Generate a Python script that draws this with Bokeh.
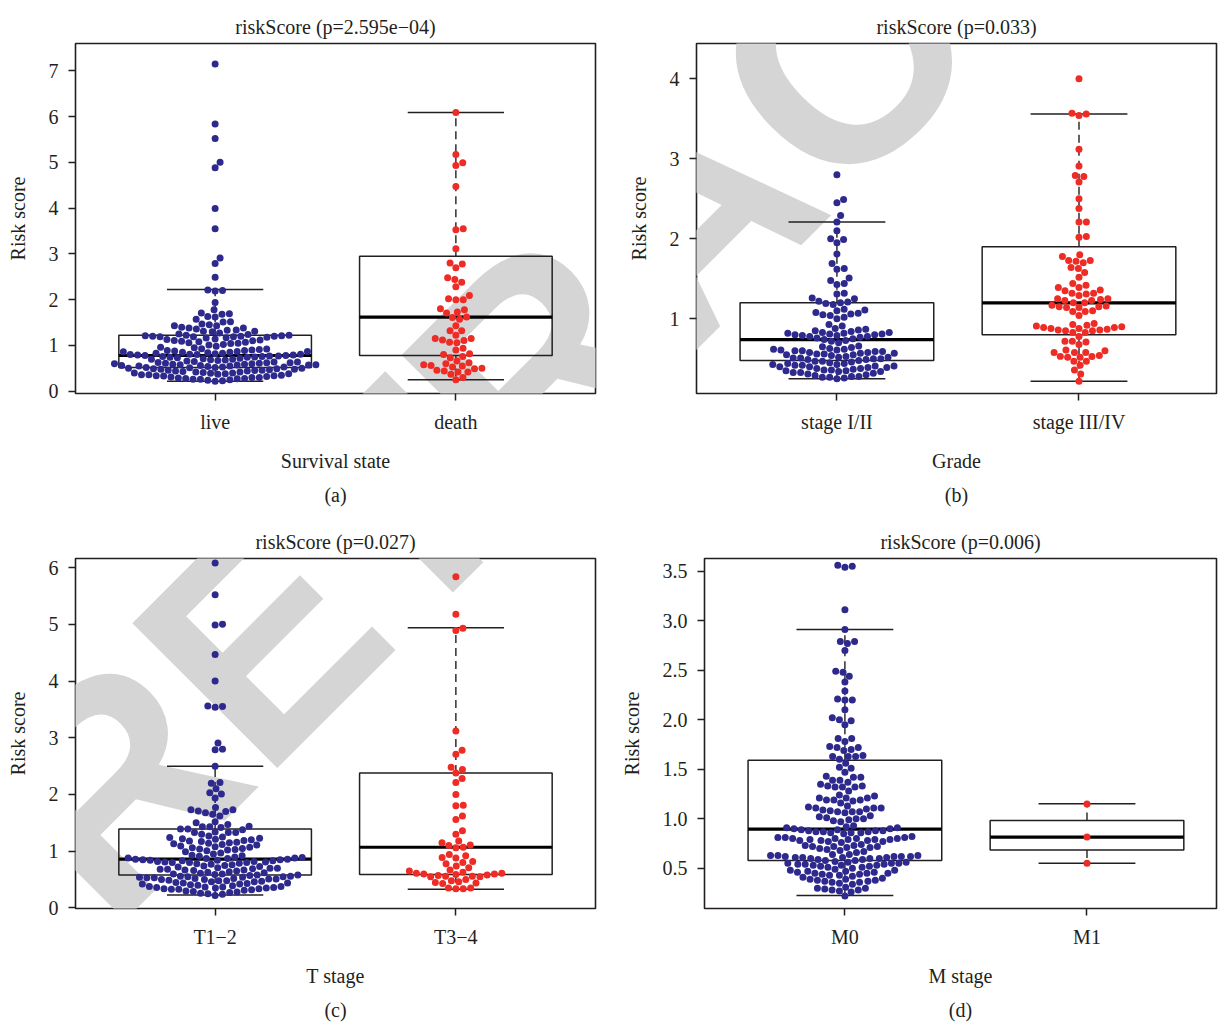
import numpy as np
from bokeh.plotting import figure
from bokeh.models import Label, FixedTicker, PrintfTickFormatter, Range1d, Title
from bokeh.layouts import column, row
from bokeh.embed import file_html
from bokeh.resources import INLINE

# ---------------- data ----------------
live_a = [7.15, 5.84, 5.52, 5.00, 4.88, 3.99, 3.55, 2.91, 2.79, 2.49, 2.21, 2.20, 2.19, 1.94, 1.78,
          1.71, 1.69, 1.68, 1.63, 1.62, 1.57, 1.52, 1.51,
          1.47, 1.45, 1.43, 1.43, 1.40, 1.38, 1.38, 1.36, 1.34, 1.33, 1.31, 1.31, 1.30,
          1.27, 1.25, 1.24, 1.22, 1.22, 1.21, 1.21, 1.20, 1.20, 1.20, 1.19, 1.19, 1.19, 1.18, 1.17, 1.16,
          1.14, 1.13, 1.12, 1.11, 1.10, 1.09, 1.08, 1.07, 1.06, 1.05, 1.04, 1.02, 1.01,
          0.98, 0.96, 0.95, 0.93, 0.92, 0.91, 0.90,
          0.89, 0.89, 0.88, 0.87, 0.87, 0.86, 0.85, 0.85, 0.84, 0.83, 0.83, 0.82, 0.81, 0.81, 0.80, 0.80,
          0.79, 0.79, 0.78, 0.78, 0.77, 0.77, 0.76, 0.76, 0.75, 0.74, 0.74, 0.73, 0.72, 0.71, 0.70, 0.70,
          0.69, 0.68, 0.67, 0.66, 0.65, 0.64, 0.64, 0.63, 0.62, 0.62, 0.61, 0.61, 0.60, 0.60,
          0.59, 0.59, 0.58, 0.58, 0.57, 0.57, 0.56, 0.56, 0.55, 0.55, 0.54, 0.53, 0.53, 0.52, 0.52,
          0.51, 0.50, 0.50,
          0.49, 0.49, 0.48, 0.48, 0.47, 0.46, 0.46, 0.45, 0.44, 0.44, 0.43, 0.42, 0.42, 0.41, 0.40, 0.40,
          0.39, 0.38, 0.38, 0.37, 0.36, 0.36, 0.35, 0.34, 0.34, 0.33, 0.32, 0.31, 0.30, 0.30,
          0.29, 0.28, 0.28, 0.27, 0.26, 0.26, 0.25, 0.24, 0.23, 0.22]
death_a = [6.09, 5.17, 4.99, 4.93, 4.47, 3.55, 3.53, 3.11, 2.80, 2.78, 2.70, 2.48, 2.44, 2.38, 2.28,
           2.09, 2.02, 2.00, 2.00, 1.80, 1.78, 1.73, 1.71, 1.62, 1.61, 1.57, 1.43, 1.32, 1.32, 1.22,
           1.15, 1.15, 1.12, 1.11, 1.07, 1.06, 0.94, 0.90, 0.82, 0.80, 0.76, 0.73, 0.66, 0.62, 0.60,
           0.58, 0.56, 0.55, 0.53, 0.50, 0.49, 0.46, 0.44, 0.42, 0.42, 0.37, 0.30, 0.25]

stage12_b = [2.80, 2.49, 2.45, 2.29, 2.21, 2.10, 2.00, 1.99, 1.95, 1.81, 1.69, 1.63, 1.62, 1.51, 1.48,
             1.44, 1.43, 1.32, 1.31,
             1.26, 1.25, 1.22, 1.21, 1.20, 1.19, 1.18, 1.12, 1.11, 1.10, 1.08, 1.07, 1.06, 1.05, 1.04,
             1.02, 1.00,
             0.93, 0.91, 0.88, 0.87, 0.86, 0.85,
             0.84, 0.83, 0.83, 0.82, 0.82, 0.81, 0.81, 0.80, 0.80, 0.79, 0.79, 0.78, 0.78,
             0.77, 0.76, 0.75, 0.74, 0.73, 0.72, 0.70,
             0.66, 0.65, 0.64, 0.63, 0.62, 0.62, 0.61, 0.61, 0.60, 0.60, 0.59, 0.59, 0.58, 0.58, 0.57,
             0.57, 0.56, 0.56, 0.55, 0.55,
             0.54, 0.53, 0.52, 0.52, 0.51, 0.51, 0.50, 0.50, 0.49, 0.49, 0.48, 0.47, 0.47, 0.46,
             0.45, 0.44, 0.44, 0.43, 0.43, 0.42, 0.42, 0.41, 0.41, 0.40, 0.40, 0.39, 0.39, 0.38, 0.38,
             0.37, 0.36, 0.36, 0.35, 0.35, 0.34, 0.34, 0.33, 0.33, 0.32, 0.31, 0.30,
             0.29, 0.28, 0.28, 0.27, 0.27, 0.26, 0.25]
stage34_b = [4.00, 3.57, 3.56, 3.54, 3.12, 2.91, 2.79, 2.78, 2.71, 2.50, 2.38, 2.21, 2.21, 2.03, 2.02,
             1.80, 1.78, 1.73, 1.73, 1.72, 1.70, 1.64, 1.63, 1.58, 1.52,
             1.44, 1.42, 1.39, 1.39, 1.36, 1.35, 1.32, 1.32, 1.31,
             1.29, 1.25, 1.25, 1.24, 1.23, 1.23, 1.20, 1.20, 1.17, 1.16, 1.15, 1.15, 1.14, 1.14, 1.10,
             1.09, 1.09, 1.04,
             0.94, 0.93, 0.92, 0.91, 0.90, 0.89, 0.89, 0.88, 0.88, 0.87, 0.86, 0.86, 0.85,
             0.85, 0.83, 0.83, 0.78, 0.72, 0.72, 0.71, 0.68,
             0.61, 0.60, 0.58, 0.58, 0.58,
             0.54, 0.53, 0.53, 0.52, 0.52, 0.47, 0.47, 0.42,
             0.36, 0.31, 0.22]

t12_c = [6.08, 5.52, 5.00, 4.99, 4.47, 4.00, 3.56, 3.55, 3.54, 2.91, 2.80, 2.79, 2.50, 2.21, 2.20,
         2.10, 2.03, 2.01, 1.94,
         1.77, 1.73, 1.73, 1.71, 1.70, 1.68, 1.65, 1.62,
         1.52, 1.50, 1.47,
         1.44, 1.43, 1.43, 1.42, 1.39, 1.39, 1.38, 1.34, 1.33, 1.33, 1.33, 1.30,
         1.27, 1.25, 1.24, 1.23, 1.22, 1.21, 1.20, 1.19, 1.18, 1.17, 1.16, 1.15, 1.14, 1.13, 1.12, 1.11,
         1.09, 1.08, 1.07, 1.06, 1.05, 1.04, 1.03, 1.02, 1.01, 0.99, 0.97, 0.95, 0.93, 0.92, 0.91, 0.90,
         0.89, 0.88, 0.88, 0.87, 0.87, 0.86, 0.86, 0.85, 0.85, 0.84, 0.84, 0.83, 0.83, 0.82, 0.82,
         0.81, 0.81, 0.80, 0.80, 0.80,
         0.79, 0.78, 0.77, 0.76, 0.75, 0.74, 0.73, 0.72, 0.71, 0.70, 0.70, 0.69, 0.68, 0.68, 0.67,
         0.67, 0.66, 0.65,
         0.64, 0.63, 0.62, 0.61, 0.60, 0.60, 0.59, 0.58, 0.58, 0.57, 0.56, 0.56, 0.55, 0.55, 0.54,
         0.54, 0.53, 0.53, 0.52, 0.52, 0.51, 0.51, 0.50, 0.50,
         0.49, 0.48, 0.48, 0.47, 0.46, 0.46, 0.45, 0.44, 0.44, 0.43, 0.42, 0.42, 0.41, 0.40,
         0.39, 0.38, 0.38, 0.37, 0.37, 0.36, 0.36, 0.35, 0.35, 0.34, 0.34, 0.33, 0.33, 0.32, 0.31, 0.30,
         0.29, 0.28, 0.27, 0.26, 0.25, 0.24, 0.22]
t34_c = [5.84, 5.18, 4.93, 4.89, 3.12, 2.78, 2.71, 2.48, 2.44, 2.38, 2.28, 2.21, 2.00, 1.81, 1.80,
         1.62, 1.56, 1.36, 1.30, 1.18, 1.15, 1.11, 1.10, 1.07, 1.06, 0.94, 0.92, 0.89, 0.88, 0.82,
         0.80, 0.78, 0.74, 0.71, 0.67, 0.65, 0.63, 0.61, 0.61, 0.60, 0.60, 0.59, 0.58, 0.57, 0.56,
         0.56, 0.55, 0.55, 0.50, 0.48, 0.46, 0.45, 0.44, 0.43, 0.35, 0.35, 0.34, 0.34]

m0_d = [3.56, 3.55, 3.54, 3.11, 2.91, 2.79, 2.79, 2.77, 2.70, 2.49, 2.48, 2.44, 2.38, 2.29, 2.21,
        2.20, 2.20, 2.10, 2.02, 2.00, 1.99, 1.95, 1.81, 1.81, 1.78,
        1.73, 1.72, 1.72, 1.70, 1.69, 1.64, 1.63, 1.63, 1.63, 1.60,
        1.56, 1.52, 1.51, 1.47, 1.43, 1.42, 1.42,
        1.39, 1.39, 1.37, 1.35, 1.33, 1.33, 1.32, 1.32, 1.32, 1.28,
        1.24, 1.23, 1.21, 1.21, 1.21, 1.19, 1.19, 1.19, 1.18, 1.16,
        1.13, 1.12, 1.11, 1.11, 1.11, 1.10, 1.09, 1.08, 1.07, 1.07, 1.07, 1.06,
        1.03, 1.02, 1.01, 1.00, 1.00, 0.99, 0.98, 0.97,
        0.93, 0.92, 0.91, 0.91, 0.90, 0.90, 0.89, 0.89, 0.88, 0.88, 0.88, 0.87, 0.87, 0.87, 0.86,
        0.86, 0.86, 0.85,
        0.82, 0.81, 0.81, 0.81, 0.80, 0.80, 0.80, 0.80, 0.79, 0.79, 0.79, 0.79, 0.78, 0.78, 0.78,
        0.77, 0.77, 0.76,
        0.74, 0.73, 0.73, 0.72, 0.72, 0.72, 0.71, 0.71, 0.70, 0.69, 0.68, 0.67, 0.66,
        0.64, 0.64, 0.63, 0.63, 0.63, 0.62, 0.62, 0.62, 0.62, 0.61, 0.61, 0.61, 0.61, 0.60, 0.60,
        0.60, 0.59, 0.59, 0.58, 0.58,
        0.57, 0.56, 0.56, 0.55, 0.55, 0.55, 0.54, 0.54, 0.54, 0.53, 0.53, 0.53, 0.52, 0.52, 0.51,
        0.51, 0.50,
        0.49, 0.48, 0.48, 0.47, 0.47, 0.46, 0.46, 0.45, 0.45, 0.45, 0.44, 0.44, 0.43, 0.43, 0.42,
        0.41, 0.40,
        0.39, 0.39, 0.38, 0.38, 0.37, 0.37, 0.36, 0.36, 0.35, 0.34,
        0.31, 0.30, 0.30, 0.29, 0.28, 0.28, 0.27, 0.26, 0.22]
m1_d = [1.15, 0.815, 0.55]

# box statistics: lower whisker, Q1, median, Q3, upper whisker
stats_a = [[0.22, 0.52, 0.78, 1.22, 2.22], [0.25, 0.78, 1.62, 2.95, 6.09]]
stats_b = [[0.25, 0.48, 0.74, 1.20, 2.21], [0.22, 0.80, 1.20, 1.90, 3.56]]
stats_c = [[0.23, 0.58, 0.86, 1.39, 2.50], [0.33, 0.59, 1.07, 2.38, 4.94]]
stats_d = [[0.225, 0.58, 0.895, 1.59, 2.91], [0.55, 0.685, 0.815, 0.983, 1.151]]

cats_a = ["live", "death"]
cats_b = ["stage I/II", "stage III/IV"]
cats_c = ["T1\u22122", "T3\u22124"]
cats_d = ["M0", "M1"]

yticks_a = [0, 1, 2, 3, 4, 5, 6, 7]
yticks_b = [1, 2, 3, 4]
yticks_c = [0, 1, 2, 3, 4, 5, 6]
yticks_d = [0.5, 1.0, 1.5, 2.0, 2.5, 3.0, 3.5]

titles = ["riskScore (p=2.595e\u221204)", "riskScore (p=0.033)", "riskScore (p=0.027)", "riskScore (p=0.006)"]
xlabels = ["Survival state", "Grade", "T stage", "M stage"]
subs = ["(a)", "(b)", "(c)", "(d)"]
watermark = "RETRACTED"

# ---------------- style ----------------
FONT = "Liberation Serif"
TXT = "#231F20"
BLUE = "#2E2A8D"
RED = "#EE2B25"
WM = "#D5D5D5"
FS = "20px"
DOT = 7.0
SPACING = 7.4


def swarm_offsets(vals, ypx, xpx, d=SPACING):
    vals = np.asarray(vals, float)
    order = np.argsort(vals, kind="stable")
    px, py = [], []
    out = np.zeros(len(vals))
    for i in order:
        y = vals[i] * ypx
        near = [(xj, yj) for xj, yj in zip(px, py) if abs(y - yj) < d]
        cands = [0.0]
        for xj, yj in near:
            dx = float(np.sqrt(d * d - (y - yj) ** 2))
            cands.append(xj + dx)
            cands.append(xj - dx)
        cands.sort(key=lambda c: (round(abs(c), 6), -c))
        best = 0.0
        for c in cands:
            if all((c - xj) ** 2 + (y - yj) ** 2 >= d * d - 1e-6 for xj, yj in near):
                best = c
                break
        px.append(best)
        py.append(y)
        out[i] = best / xpx
    return out


def make_panel(origin, w, h, borders, xr, yr, yticks, fmt, cats, groups, stats,
               title, xlabel, sub, sub_offset):
    l, r, t, b = borders
    p = figure(width=w, height=h, output_backend="svg", toolbar_location=None,
               x_range=Range1d(*xr), y_range=Range1d(*yr), title=title,
               min_border_left=l, min_border_right=r, min_border_top=t, min_border_bottom=b,
               background_fill_color="white", border_fill_color="white")
    p.outline_line_color = TXT
    p.outline_line_width = 1.6
    p.grid.visible = False

    p.title.align = "center"
    p.title.text_font = FONT
    p.title.text_font_size = FS
    p.title.text_font_style = "normal"
    p.title.text_color = TXT
    p.title.standoff = 11

    # watermark (frame-relative screen units), drawn beneath the marks
    fl = origin[0] + l
    fb = origin[1] + h - b
    p.add_layout(Label(x=687 - fl, y=fb - 212, x_units="screen", y_units="screen",
                       text=watermark, angle=np.pi / 4, text_font="Liberation Sans",
                       text_font_size="298px", text_font_style="bold", text_color=WM,
                       text_align="center", text_baseline="middle", level="underlay"))

    fw = w - l - r
    fh = h - t - b
    xpx = fw / (xr[1] - xr[0])
    ypx = fh / (yr[1] - yr[0])

    for k, (vals, st, col) in enumerate(zip(groups, stats, [BLUE, RED])):
        pos = k + 1
        lo, q1, med, q3, hi = st
        p.quad(left=[pos - 0.4], right=[pos + 0.4], bottom=[q1], top=[q3],
               fill_color=None, line_color=TXT, line_width=1.5)
        p.segment(x0=[pos, pos], y0=[q3, q1], x1=[pos, pos], y1=[hi, lo],
                  line_color=TXT, line_width=1.4, line_dash="8 5")
        p.segment(x0=[pos - 0.2, pos - 0.2], y0=[lo, hi], x1=[pos + 0.2, pos + 0.2], y1=[lo, hi],
                  line_color=TXT, line_width=1.5)
        p.segment(x0=[pos - 0.4], y0=[med], x1=[pos + 0.4], y1=[med],
                  line_color="black", line_width=3.2)
        offs = swarm_offsets(vals, ypx, xpx)
        p.scatter(x=pos + offs, y=np.asarray(vals, float), size=DOT, marker="circle",
                  fill_color=col, line_color=None)

    for ax in (p.xaxis[0], p.yaxis[0]):
        ax.axis_line_color = None
        ax.major_tick_out = 7
        ax.major_tick_in = 0
        ax.minor_tick_out = 0
        ax.minor_tick_in = 0
        ax.major_tick_line_color = TXT
        ax.major_tick_line_width = 1.5
        ax.major_label_text_font = FONT
        ax.major_label_text_font_size = FS
        ax.major_label_text_color = TXT
        ax.axis_label_text_font = FONT
        ax.axis_label_text_font_size = FS
        ax.axis_label_text_font_style = "normal"
        ax.axis_label_text_color = TXT
    p.xaxis.ticker = FixedTicker(ticks=[1, 2])
    p.xaxis.major_label_overrides = {1: cats[0], 2: cats[1]}
    p.xaxis.major_label_standoff = 10
    p.xaxis.axis_label = xlabel
    p.xaxis.axis_label_standoff = 14
    p.yaxis.ticker = FixedTicker(ticks=yticks)
    p.yaxis.formatter = PrintfTickFormatter(format=fmt)
    p.yaxis.major_label_standoff = 10
    p.yaxis.axis_label = "Risk score"
    p.yaxis.axis_label_standoff = 17

    p.add_layout(Title(text=sub, align="center", offset=sub_offset, text_font=FONT,
                       text_font_size=FS, text_font_style="normal", text_color=TXT,
                       standoff=15), "below")
    return p


pa = make_panel((0, 0), 613, 515, (75, 18, 43, 122), (0.42, 2.58), (-0.050, 7.597),
                yticks_a, "%d", cats_a, [live_a, death_a], stats_a,
                titles[0], xlabels[0], subs[0], -32)
pb = make_panel((613, 0), 605, 515, (83, 2, 43, 122), (0.42, 2.568), (0.066, 4.441),
                yticks_b, "%d", cats_b, [stage12_b, stage34_b], stats_b,
                titles[1], xlabels[1], subs[1], -31)
pc = make_panel((0, 515), 613, 513, (75, 18, 43, 119), (0.42, 2.58), (-0.010, 6.161),
                yticks_c, "%d", cats_c, [t12_c, t34_c], stats_c,
                titles[2], xlabels[2], subs[2], -32)
pd = make_panel((613, 515), 605, 513, (91, 2, 43, 119), (0.42, 2.535), (0.0943, 3.628),
                yticks_d, "%.1f", cats_d, [m0_d, m1_d], stats_d,
                titles[3], xlabels[3], subs[3], -35)

layout = column(row(pa, pb, spacing=0), row(pc, pd, spacing=0), spacing=0)
open("out.html", "w").write(file_html(layout, INLINE))
